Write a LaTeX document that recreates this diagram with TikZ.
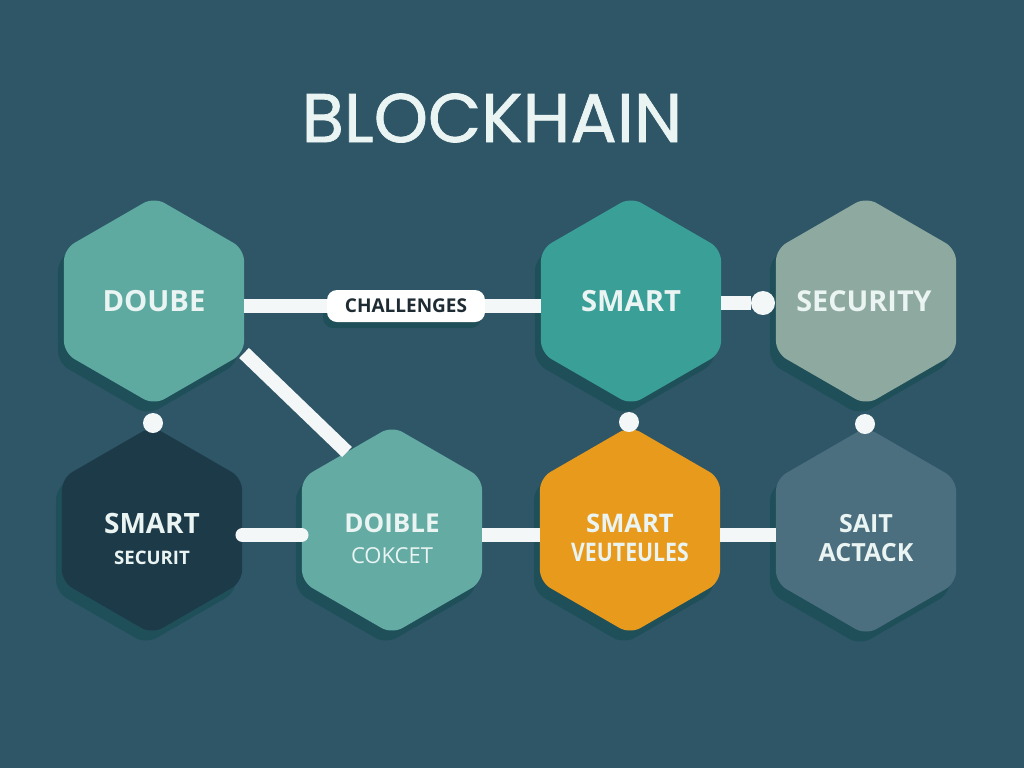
\documentclass[tikz,border=0pt]{standalone}
\usepackage{fontspec}
\usepackage{graphicx}
\setmainfont{Open Sans}
\newfontfamily\titlefont[FakeBold=1]{Poppins}
\usetikzlibrary{shapes.geometric,shadows,calc}

\definecolor{bgcol}{HTML}{2E5667}
\definecolor{shadowcol}{HTML}{1F4F59}
\definecolor{linecol}{HTML}{F4F7F7}
\definecolor{labelcol}{HTML}{EAF4F2}
\definecolor{inkcol}{HTML}{1E2B33}
\definecolor{tealA}{HTML}{5EA9A0}
\definecolor{tealB}{HTML}{3A9F97}
\definecolor{sage}{HTML}{8EA99F}
\definecolor{navy}{HTML}{1D3A49}
\definecolor{tealC}{HTML}{64ABA4}
\definecolor{amber}{HTML}{E89A1D}
\definecolor{slate}{HTML}{4C6F80}

\tikzset{
    hex/.style={regular polygon, regular polygon sides=6, shape border rotate=30,
        minimum size=104pt, inner sep=0pt, rounded corners=6pt,
        drop shadow={shadow xshift=-3pt, shadow yshift=-5pt, fill=shadowcol, opacity=1}},
    hexlabel/.style={align=center, text=labelcol, inner sep=0pt},
    link/.style={draw=linecol, line width=7pt},
    dot/.style={circle, fill=linecol, minimum size=10pt, inner sep=0pt},
    pill/.style={rectangle, rounded corners=5pt, fill=white, text=inkcol,
        minimum width=79pt, minimum height=16pt, inner sep=0pt,
        font=\bfseries\fontsize{9.5}{11}\selectfont,
        drop shadow={shadow xshift=-2pt, shadow yshift=-3pt, fill=shadowcol, opacity=1}}
}

\begin{document}
\begin{tikzpicture}[x=0.5pt, y=-0.5pt]
        \fill [bgcol] (0, 0) rectangle (1024, 768);
        \useasboundingbox (0, 0) rectangle (1024, 768);

        \node [text=labelcol, font=\titlefont\fontsize{34.5}{38}\selectfont] (title) at (492, 118) {BLOCKHAIN};

        % top row
        \node [hex, fill=tealA] (doube) at (154, 301) {};
        \node [hex, fill=tealB] (smart) at (631, 301) {};
        \node [hex, fill=sage] (security) at (866, 301) {};

        % bottom row
        \node [hex, fill=navy] (smartsec) at (152, 530) {};
        \node [hex, fill=tealC] (doible) at (392, 530) {};
        \node [hex, fill=amber] (veut) at (630, 530) {};
        \node [hex, fill=slate] (attack) at (866, 531) {};

        % texts
        \node [hexlabel, font=\bfseries\fontsize{14.6}{16}\selectfont] (doube-t) at (doube) {DOUBE};
        \node [hexlabel, font=\bfseries\fontsize{14.6}{16}\selectfont] (smart-t) at (smart) {SMART};
        \node [hexlabel, font=\bfseries\fontsize{14.4}{16}\selectfont] (security-t) at ($(security) + (-2, 0)$) {SECURITY};
        \node [hexlabel, font=\bfseries\fontsize{14}{15.5}\selectfont] (smartsec-t) at ($(smartsec) + (0, 9)$)
            {SMART\\{\fontsize{9.3}{10}\selectfont SECURIT}};
        \node [hexlabel, font=\bfseries\fontsize{13}{15.5}\selectfont] (doible-t) at ($(doible) + (0, 9)$)
            {DOIBLE\\{\mdseries\fontsize{11}{12}\selectfont COKCET}};
        \node [hexlabel, font=\bfseries\fontsize{12.8}{14.5}\selectfont] (veut-t) at ($(veut) + (0, 8)$)
            {SMART\\\scalebox{0.83}[1]{VEUTEULES}};
        \node [hexlabel, font=\bfseries\fontsize{12.5}{14.5}\selectfont] (attack-t) at ($(attack) + (0, 7)$)
            {SAIT\\ACTACK};

        \node [pill] (challenges) at (406, 306) {CHALLENGES};
        \node [dot, minimum size=12pt] (dot1) at (763, 303) {};
        \node [dot] (dot2) at (153, 423) {};
        \node [dot] (dot3) at (629, 422) {};
        \node [dot] (dot4) at (865, 424) {};

        % links
        \draw [link] (doube.east |- challenges) -- (challenges.west);
        \draw [link] (challenges.east) -- (smart.west |- challenges);
        \draw [link] (smart.east |- dot1) -- (dot1);
        \draw [link] ($(doube.center) + (30:104)$) -- ($(doible.center) + (240:90)$);
        \draw [link, line cap=round] ($(smartsec.east) + (0, 5)$) -- ($(doible.west) + (0, 5)$);
        \draw [link] ($(doible.east) + (0, 5)$) -- ($(veut.west) + (0, 5)$);
        \draw [link] ($(veut.east) + (0, 5)$) -- ($(attack.west) + (0, 4)$);
    \end{tikzpicture}
\end{document}
